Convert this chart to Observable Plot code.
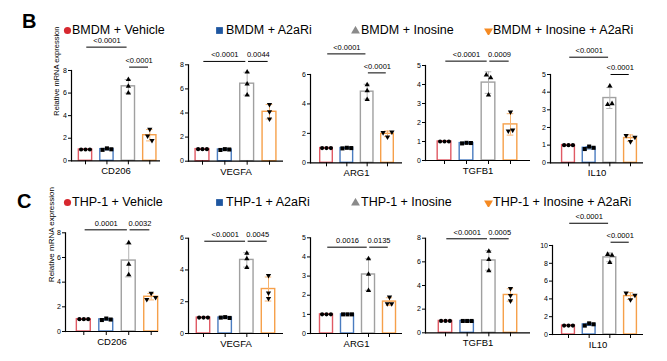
<!DOCTYPE html>
<html><head><meta charset="utf-8">
<script src="https://cdn.jsdelivr.net/npm/d3@7"></script>
<script src="https://cdn.jsdelivr.net/npm/@observablehq/plot@0.6"></script>
<style>
body{margin:0;background:#fff;}
#fig{position:relative;width:667px;height:361px;font-family:"Liberation Sans",Arial,sans-serif;overflow:hidden;background:#fff;}
.lab{position:absolute;font-weight:bold;font-size:20px;line-height:20px;}
.leg{position:absolute;font-size:12.5px;line-height:14px;white-space:nowrap;}
.mk{position:absolute;}
</style></head><body><div id="fig"></div>
<script>
// ---- data ----
const groups = ["Vehicle", "A2aRi", "Inosine", "Inosine + A2aRi"];
const genes = ["CD206", "VEGFA", "ARG1", "TGFB1", "IL10"];
const cellLines = ["BMDM", "THP-1"];
const panelLetters = ["B", "C"];
const yLabel = "Relative mRNA expression";

// replicates per group
const bmdmCD206 = [[1, 1, 1], [0.97, 1.1, 1.02], [6.6, 7.2, 6.0], [2.2, 2.8, 1.8]];
const bmdmVEGFA = [[1, 1, 1], [0.93, 1.0, 0.97], [6.4, 7.4, 5.5], [4.1, 4.7, 3.5]];
const bmdmARG1  = [[1, 1, 1], [0.98, 1.02, 1.0], [4.9, 5.3, 4.3], [2.05, 1.75, 2.1]];
const bmdmTGFB1 = [[1, 1, 1], [0.9, 0.93, 0.92], [4.5, 3.45, 4.35], [1.55, 2.55, 1.6]];
const bmdmIL10  = [[1, 1, 1], [0.78, 0.92, 0.85], [3.3, 4.35, 3.35], [1.55, 1.2, 1.45]];

const thp1CD206 = [[1, 1, 1], [0.93, 1.05, 0.97], [5.45, 7.2, 4.6], [2.6, 3.1, 2.75]];
const thp1VEGFA = [[1, 1, 1], [1.0, 1.03, 0.98], [4.7, 5.05, 4.15], [2.55, 3.65, 2.2]];
const thp1ARG1  = [[1, 1, 1], [1.0, 1.0, 1.0], [3.1, 3.9, 2.25], [1.55, 1.9, 1.55]];
const thp1TGFB1 = [[1, 1, 1], [1.0, 1.0, 1.0], [6.2, 6.9, 5.25], [3.15, 3.75, 2.7]];
const thp1IL10  = [[1, 1, 1], [1.0, 1.25, 1.15], [9.0, 8.1, 8.9], [4.65, 3.9, 4.4]];

// y-axis tick labels
const bmdmTicks = [[0, 2, 4, 6, 8], [0, 2, 4, 6, 8], [0, 2, 4, 6], [0, 1, 2, 3, 4, 5], [0, 1, 2, 3, 4, 5]];
const thp1Ticks = [[0, 2, 4, 6, 8], [0, 2, 4, 6], [0, 1, 2, 3, 4, 5], [0, 2, 4, 6, 8], [0, 2, 4, 6, 8, 10]];

// significance: [group a, group b, p label, bracket height (data units)]
const bmdmSig = [
  [[0, 2, "<0.0001", 10.07], [2, 3, "<0.0001", 8.3]],
  [[0, 2, "<0.0001", 8.28], [2, 3, "0.0044", 8.28]],
  [[0, 2, "<0.0001", 7.4], [2, 3, "<0.0001", 6.11]],
  [[0, 2, "<0.0001", 5.23], [2, 3, "0.0009", 5.23]],
  [[0, 2, "<0.0001", 5.98], [2, 3, "<0.0001", 5.0]]
];
const thp1Sig = [
  [[0, 2, "0.0001", 8.24], [2, 3, "0.0032", 8.24]],
  [[0, 2, "<0.0001", 5.81], [2, 3, "0.0045", 5.81]],
  [[0, 2, "0.0016", 4.51], [2, 3, "0.0135", 4.51]],
  [[0, 2, "<0.0001", 7.95], [2, 3, "0.0005", 7.95]],
  [[0, 2, "<0.0001", 12.5], [2, 3, "<0.0001", 10.37]]
];

const bmdmData = [bmdmCD206, bmdmVEGFA, bmdmARG1, bmdmTGFB1, bmdmIL10];
const thp1Data = [thp1CD206, thp1VEGFA, thp1ARG1, thp1TGFB1, thp1IL10];

// ---- styles / layout ----
const barColors = ["#e05a64", "#4a7cc0", "#a0a0a0", "#f6a04a"];
const errColors = ["#e05a64", "#4a7cc0", "#b4b4b4", "#f7b36e"];
const legColors = ["#d7282f", "#1e56a0", "#8a8a8a", "#f58a22"];
const font = "'Liberation Sans', Arial, sans-serif";

// pixel geometry of each panel: axis x start/end, first/last bar centre, y of 0 and of top tick
const layout = [
  { rowTop: 30, legendY: 30, letterY: 11, ylabSize: 7.5, panels: [
    { ax0: 71, ax1: 160, c0: 85, c3: 149.3, y0: 160.3, yTop: 70 },
    { ax0: 188, ax1: 283, c0: 202, c3: 269, y0: 160.7, yTop: 64.3 },
    { ax0: 310, ax1: 402, c0: 326, c3: 387, y0: 162.3, yTop: 74 },
    { ax0: 425, ax1: 530, c0: 444, c3: 510, y0: 160, yTop: 65 },
    { ax0: 550, ax1: 643, c0: 568, c3: 630, y0: 162.3, yTop: 74 }
  ]},
  { rowTop: 206, legendY: 202, letterY: 191, ylabSize: 8, panels: [
    { ax0: 65, ax1: 158, c0: 83.3, c3: 150.7, y0: 331, yTop: 232.3 },
    { ax0: 188, ax1: 283, c0: 203, c3: 268, y0: 333, yTop: 237.7 },
    { ax0: 310, ax1: 402, c0: 326, c3: 389, y0: 333, yTop: 237.3 },
    { ax0: 425, ax1: 530, c0: 445, c3: 510, y0: 332.3, yTop: 237.7 },
    { ax0: 552, ax1: 643, c0: 568, c3: 630, y0: 334, yTop: 245 }
  ]}
];
const legendX = [63, 215, 351, 484];
const legendTextX = [72, 226, 361, 493];

const triDown = {
  draw(ctx, size) {
    const y = -Math.sqrt(size / (Math.sqrt(3) * 3));
    ctx.moveTo(0, -y * 2);
    ctx.lineTo(-Math.sqrt(3) * y, y);
    ctx.lineTo(Math.sqrt(3) * y, y);
    ctx.closePath();
  }
};
const symbols = ["circle", "square", "triangle", triDown];
const symR = [2.1, 2.3, 1.95, 1.95];

const fig = document.getElementById("fig");

// scatter layout like the original software: points that overlap vertically are spread sideways
function spreadOffsets(vals, pxPerY, pxPerX, stepPx, minGapPx) {
  const order = d3.range(vals.length).sort((a, b) => vals[a] - vals[b]);
  const clusters = [];
  let cur = [order[0]];
  for (let k = 1; k < order.length; k++) {
    if ((vals[order[k]] - vals[order[k - 1]]) * pxPerY < minGapPx) cur.push(order[k]);
    else { clusters.push(cur); cur = [order[k]]; }
  }
  clusters.push(cur);
  const off = new Array(vals.length).fill(0);
  for (const c of clusters) {
    c.sort((a, b) => a - b);
    c.forEach((idx, k) => { off[idx] = (k - (c.length - 1) / 2) * stepPx / pxPerX; });
  }
  return off;
}

function drawPanel(reps, ticks, sig, gene, geo, row, showYLabel) {
  const marginLeft = 26, marginRight = 4, marginBottom = 22;
  const left = geo.ax0 - marginLeft;
  const top = row.rowTop;
  const width = geo.ax1 - left + marginRight;
  const marginTop = geo.yTop - top;
  const height = geo.y0 - top + marginBottom;
  const ymax = ticks[ticks.length - 1];
  const pxPerY = (geo.y0 - geo.yTop) / ymax;
  const pxPerX = (geo.c3 - geo.c0) / (groups.length - 1);
  const summ = reps.map((v, i) => ({ i, mean: d3.mean(v), sd: d3.deviation(v) }));
  const pts = reps.flatMap((v, i) => {
    const off = spreadOffsets(v, pxPerY, pxPerX, 4.4, 4.6);
    return v.map((val, rep) => ({ i, rep, v: val, off: off[rep] }));
  });
  const sigs = sig.map(([a, b, label, y]) => ({ a, b, label, y }));
  const hw = 0.31, cap = 0.15, inset = 0.06;

  const marks = [
    Plot.rectY(summ, { x1: d => d.i - hw, x2: d => d.i + hw, y1: 0, y2: "mean",
      fill: "white", stroke: d => barColors[d.i], strokeWidth: 1.4 }),
    Plot.ruleX(summ, { x: "i", y1: d => d.mean - d.sd, y2: d => d.mean + d.sd,
      stroke: d => errColors[d.i], strokeWidth: 1 }),
    Plot.ruleY(summ, { x1: d => d.i - cap, x2: d => d.i + cap, y: d => d.mean + d.sd,
      stroke: d => errColors[d.i], strokeWidth: 1 }),
    Plot.ruleY(summ, { x1: d => d.i - cap, x2: d => d.i + cap, y: d => d.mean - d.sd,
      stroke: d => errColors[d.i], strokeWidth: 1 }),
  ];
  for (let g = 0; g < groups.length; g++) {
    marks.push(Plot.dot(pts.filter(p => p.i === g), {
      x: d => d.i + d.off, y: "v", symbol: symbols[g], r: symR[g], fill: "black", stroke: "none"
    }));
  }
  marks.push(
    Plot.ruleY([0], { stroke: "black", strokeWidth: 1.2 }),
    Plot.frame({ anchor: "left", stroke: "black", strokeWidth: 1.2 }),
    Plot.axisY({ ticks, tickSize: 3, tickPadding: 1.5, fontSize: 7, label: null, strokeWidth: 1,
      tickFormat: d => String(d) }),
    Plot.axisX({ ticks: d3.range(groups.length), tickSize: 4, tickFormat: () => "", label: null, strokeWidth: 1 }),
    Plot.text([gene], { frameAnchor: "bottom", dy: 13.5, fontSize: 9.5, fill: "black" }),
    Plot.ruleY(sigs, { x1: d => d.a + inset, x2: d => d.b - inset, y: "y", stroke: "black", strokeWidth: 1 }),
    Plot.text(sigs, { x: d => (d.a + d.b) / 2, y: "y", text: "label", dy: -6.5, fontSize: 7.5, fill: "black" })
  );
  if (showYLabel) {
    marks.push(Plot.text([yLabel], { frameAnchor: "left", rotate: -90, dx: -14.5,
      fontSize: row.ylabSize, fill: "black" }));
  }
  const plot = Plot.plot({
    width, height, marginLeft, marginRight, marginTop, marginBottom,
    x: { domain: [0, groups.length - 1], range: [geo.c0 - left, geo.c3 - left] },
    y: { domain: [0, ymax], range: [geo.y0 - top, geo.yTop - top] },
    color: { type: "identity" },
    style: { fontFamily: font, background: "transparent", overflow: "visible", color: "black" },
    marks
  });
  plot.style.position = "absolute";
  plot.style.left = left + "px";
  plot.style.top = top + "px";
  fig.appendChild(plot);
}

function drawLegend(cell, row) {
  groups.forEach((g, i) => {
    const s = 9;
    const svg = d3.create("svg").attr("class", "mk").attr("width", s).attr("height", s)
      .style("left", legendX[i] + "px").style("top", (row.legendY - s / 2) + "px");
    const sym = d3.symbol(i === 0 ? d3.symbolCircle : i === 1 ? d3.symbolSquare : i === 2 ? d3.symbolTriangle : triDown,
      i === 0 ? 40 : i === 1 ? 46 : 34)();
    svg.append("path").attr("d", sym).attr("transform", `translate(${s / 2},${s / 2 + (i >= 2 ? 0.5 : 0)})`)
      .attr("fill", legColors[i]);
    fig.appendChild(svg.node());
    const t = document.createElement("div");
    t.className = "leg";
    t.textContent = cell + " + " + g;
    t.style.left = legendTextX[i] + "px";
    t.style.top = (row.legendY - 7) + "px";
    fig.appendChild(t);
  });
}

[bmdmData, thp1Data].forEach((data, r) => {
  const row = layout[r];
  const ticks = r === 0 ? bmdmTicks : thp1Ticks;
  const sig = r === 0 ? bmdmSig : thp1Sig;
  const letter = document.createElement("div");
  letter.className = "lab";
  letter.textContent = panelLetters[r];
  letter.style.left = (r === 0 ? 22 : 17) + "px";
  letter.style.top = row.letterY + "px";
  fig.appendChild(letter);
  drawLegend(cellLines[r], row);
  data.forEach((reps, k) => drawPanel(reps, ticks[k], sig[k], genes[k], row.panels[k], row, k === 0));
});
</script></body></html>
